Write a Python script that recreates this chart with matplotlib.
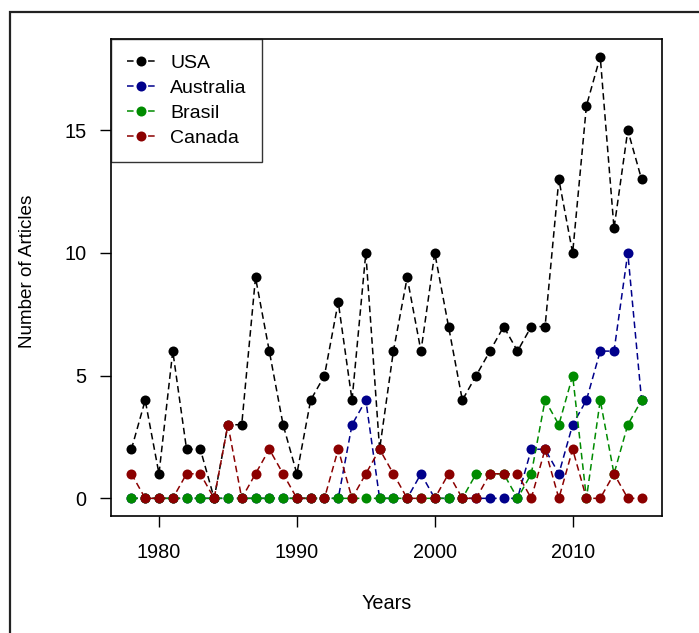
import matplotlib
matplotlib.use("Agg")
import matplotlib.pyplot as plt
from matplotlib.patches import Rectangle

plt.rcParams['font.family'] = ['Liberation Sans', 'DejaVu Sans']

# Articles per year and country
years = list(range(1978, 2016))
usa = [2, 4, 1, 6, 2, 2, 0, 3, 3, 9, 6, 3, 1, 4, 5, 8, 4, 10, 2, 6,
       9, 6, 10, 7, 4, 5, 6, 7, 6, 7, 7, 13, 10, 16, 18, 11, 15, 13]
australia = [0, 0, 0, 0, 0, 0, 0, 0, 0, 0, 0, 0, 0, 0, 0, 0, 3, 4, 0, 0,
             0, 1, 0, 0, 0, 0, 0, 0, 0, 2, 2, 1, 3, 4, 6, 6, 10, 4]
brasil = [0, 0, 0, 0, 0, 0, 0, 0, 0, 0, 0, 0, 0, 0, 0, 0, 0, 0, 0, 0,
          0, 0, 0, 0, 0, 1, 1, 1, 0, 1, 4, 3, 5, 0, 4, 1, 3, 4]
canada = [1, 0, 0, 0, 1, 1, 0, 3, 0, 1, 2, 1, 0, 0, 0, 2, 0, 1, 2, 1,
          0, 0, 0, 1, 0, 0, 1, 1, 1, 0, 2, 0, 2, 0, 0, 1, 0, 0]

series = [("USA", usa, "black"),
          ("Australia", australia, "#00008B"),
          ("Brasil", brasil, "#008B00"),
          ("Canada", canada, "#8B0000")]

fig = plt.figure(figsize=(6.99, 6.33), dpi=100)
ax = fig.add_axes([111/699, 1-516/633, 551/699, 477/633])

for name, vals, col in series:
    ax.plot(years, vals, linestyle=(0, (4.3, 2.6)), color=col, lw=1.1,
            marker='o', markersize=7.2, markeredgewidth=0, label=name)

ax.set_xlim(1976.52, 2016.48)
ax.set_ylim(-0.72, 18.72)
ax.set_xticks([1980, 1990, 2000, 2010])
ax.set_yticks([0, 5, 10, 15])
ax.tick_params(axis='both', direction='out', length=8, width=1, labelsize=14.3)
ax.tick_params(axis='x', pad=11.5)
ax.tick_params(axis='y', pad=9.5)
for s in ax.spines.values():
    s.set_linewidth(1.2)

ax.set_xlabel("Years", fontsize=14.3)
ax.xaxis.set_label_coords(0.5, -0.164)
ax.set_ylabel("Number of Articles", fontsize=13.6)
ax.yaxis.set_label_coords(-0.136, 0.513)

leg = ax.legend(loc='upper left', bbox_to_anchor=(0, 1), borderaxespad=0,
                fontsize=14, frameon=True, fancybox=False, edgecolor='black',
                borderpad=0.8, handlelength=1.45, handletextpad=0.8,
                labelspacing=0.37)
leg.get_frame().set_linewidth(1.0)

# outer frame around the graphic
fig.patches.append(Rectangle((10/699, -0.2), 1.2, 1.2 - 12/633,
                             transform=fig.transFigure, fill=False,
                             edgecolor='#222222', lw=1.6))

fig.savefig("out.png", dpi=100)
